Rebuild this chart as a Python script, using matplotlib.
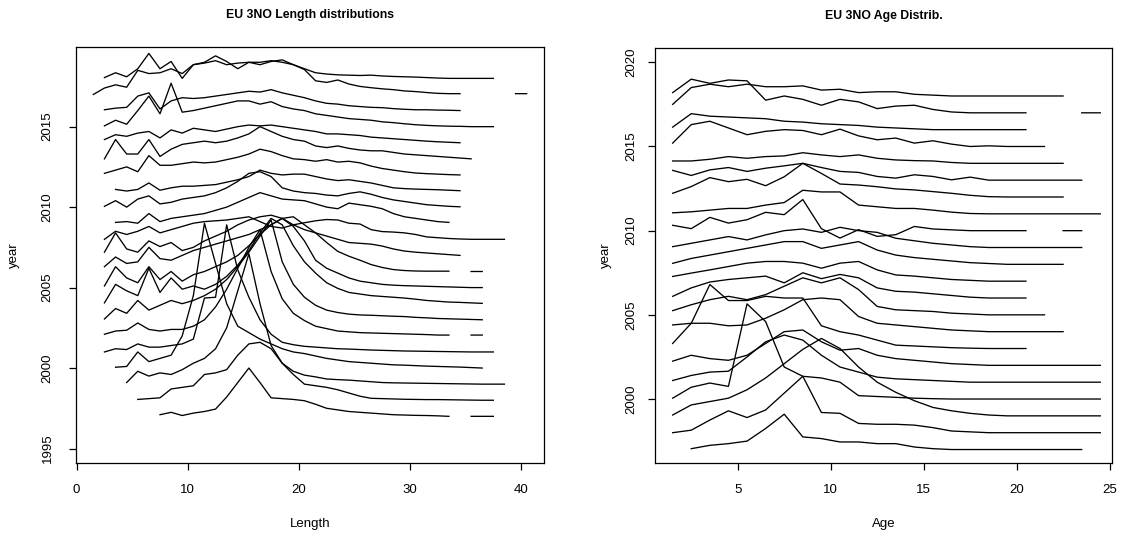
import numpy as np
import matplotlib
matplotlib.use("Agg")
import matplotlib.pyplot as plt

nan = np.nan
years = list(range(1997, 2019))

# ---------------- Length panel (heights above the year baseline) -------------
len_start = [7.5, 5.5, 4.5, 3.5, 2.5, 2.5, 2.5, 2.5, 2.5, 2.5, 2.5,
             2.5, 3.5, 2.5, 3.5, 2.5, 2.5, 2.5, 2.5, 2.5, 1.5, 2.5]

len_1997 = [0.1, 0.25, 0.05, 0.2, 0.3, 0.45, 1.2, 2.1, 3.0, 2.1, 1.15, 1.1, 1.05, 0.97,
            0.75, 0.5, 0.4, 0.3, 0.25, 0.2, 0.15, 0.1, 0.08, 0.06, 0.05, 0.03, 0.0, nan,
            0.0, 0.0, 0.0]
len_1998 = [0.05, 0.1, 0.15, 0.7, 0.8, 0.9, 1.6, 1.7, 1.9, 2.8, 3.5, 3.6, 3.2, 2.3, 1.6,
            1.0, 0.9, 0.8, 0.65, 0.45, 0.25, 0.12, 0.1, 0.08, 0.06, 0.05, 0.04, 0.04, 0.03,
            0.02, 0.01, 0.0, 0.0]
len_1999 = [0.1, 0.8, 0.5, 0.7, 0.6, 0.9, 1.3, 1.6, 2.2, 3.5, 5.8, 8.1, 5.0, 2.4, 1.3,
            0.8, 0.56, 0.45, 0.32, 0.28, 0.25, 0.2, 0.15, 0.1, 0.08, 0.07, 0.06, 0.05, 0.04,
            0.03, 0.02, 0.01, 0.0, 0.0, 0.0]
len_2000 = [0.05, 0.1, 1.0, 0.4, 0.6, 0.8, 2.0, 4.5, 9.0, 6.5, 4.0, 2.6, 2.2, 1.8, 1.5,
            1.2, 1.0, 0.9, 0.75, 0.6, 0.5, 0.4, 0.35, 0.3, 0.25, 0.2, 0.18, 0.15, 0.12,
            0.1, 0.08, 0.06, 0.03, 0.0]
len_2001 = [0.0, 0.2, 0.15, 0.5, 0.3, 0.3, 0.4, 0.5, 0.8, 3.35, 3.4, 7.9, 5.1, 3.4, 2.0,
            1.1, 0.6, 0.45, 0.35, 0.3, 0.25, 0.2, 0.18, 0.15, 0.12, 0.1, 0.08, 0.06, 0.05,
            0.04, 0.03, 0.02, 0.01, 0.0, 0.0, 0.0]
len_2002 = [0.1, 0.3, 0.35, 0.8, 0.4, 0.3, 0.4, 0.4, 0.6, 1.0, 1.8, 2.9, 4.2, 5.5, 6.6,
            4.0, 2.3, 1.4, 0.95, 0.6, 0.45, 0.3, 0.25, 0.2, 0.18, 0.16, 0.14, 0.12, 0.1,
            0.08, 0.05, 0.05, nan, 0.05, 0.05]
len_2003 = [0.05, 0.7, 0.4, 1.2, 0.6, 0.9, 1.2, 1.0, 1.2, 1.5, 1.9, 2.5, 3.3, 4.2, 5.2,
            6.2, 3.6, 2.2, 1.4, 0.9, 0.6, 0.45, 0.35, 0.3, 0.28, 0.25, 0.22, 0.2, 0.15,
            0.12, 0.08, 0.06, 0.04, 0.02, 0.0]
len_2004 = [0.05, 1.2, 0.8, 0.5, 2.2, 0.7, 1.6, 0.9, 1.1, 0.9, 1.2, 1.7, 2.4, 3.3, 4.4,
            5.3, 4.9, 3.6, 2.6, 1.9, 1.3, 0.95, 0.7, 0.6, 0.5, 0.45, 0.4, 0.35, 0.28, 0.2,
            0.15, 0.1, 0.08, 0.05, 0.02]
len_2005 = [0.1, 1.3, 0.6, 0.3, 1.3, 0.5, 1.0, 0.4, 0.8, 1.0, 1.3, 1.6, 2.0, 2.6, 3.3,
            3.9, 4.3, 3.8, 2.9, 1.7, 1.2, 0.9, 0.6, 0.4, 0.3, 0.2, 0.15, 0.12, 0.1, 0.08,
            0.06, 0.04, 0.02, 0.0, 0.0]
len_2006 = [0.3, 0.9, 0.5, 0.6, 1.5, 0.8, 0.7, 1.0, 1.3, 1.5, 1.7, 1.9, 2.1, 2.3, 2.6,
            2.9, 3.3, 3.4, 2.9, 2.4, 1.8, 1.25, 0.95, 0.7, 0.43, 0.25, 0.12, 0.06, 0.03,
            0.02, 0.02, 0.02, nan, 0.0, 0.0]
len_2007 = [0.2, 1.4, 0.4, 0.2, 0.9, 0.55, 0.8, 0.3, 0.5, 0.9, 1.2, 1.5, 1.9, 2.2, 2.4,
            2.5, 2.3, 1.9, 1.6, 1.4, 1.2, 1.0, 0.8, 0.75, 0.7, 0.58, 0.4, 0.27, 0.2, 0.15,
            0.1, 0.05, 0.0]
len_2008 = [0.0, 0.5, 0.3, 0.5, 0.8, 0.4, 0.6, 0.8, 1.0, 1.1, 1.15, 1.2, 1.3, 1.4, 1.1,
            0.8, 0.7, 0.9, 1.03, 1.15, 1.23, 1.2, 1.0, 0.95, 0.6, 0.48, 0.45, 0.4, 0.3,
            0.15, 0.1, 0.05, 0.02, 0.0, 0.0, 0.0, 0.0]
len_2009 = [0.05, 0.1, 0.0, 0.6, 0.1, 0.3, 0.4, 0.5, 0.6, 0.8, 1.0, 1.3, 1.6, 1.9, 1.7,
            1.5, 1.45, 1.4, 1.2, 1.0, 0.9, 1.25, 1.15, 1.05, 0.9, 0.6, 0.4, 0.3, 0.2, 0.1,
            0.05]
len_2010 = [0.05, 0.4, 0.0, 0.5, 0.7, 0.2, 0.3, 0.5, 0.6, 0.7, 0.9, 1.2, 1.6, 2.1, 2.2,
            1.9, 1.2, 1.0, 0.9, 0.85, 0.75, 0.7, 0.85, 0.95, 0.8, 0.6, 0.45, 0.35, 0.25,
            0.15, 0.1, 0.05, 0.02]
len_2011 = [0.1, 0.0, 0.1, 0.5, 0.05, 0.2, 0.3, 0.3, 0.35, 0.4, 0.55, 0.7, 0.9, 1.3, 1.1,
            1.0, 1.05, 1.05, 0.9, 0.75, 0.65, 0.7, 0.6, 0.5, 0.35, 0.2, 0.15, 0.12, 0.1,
            0.08, 0.05, 0.02]
len_2012 = [0.1, 0.3, 0.5, 0.2, 1.2, 0.6, 0.6, 0.7, 0.8, 0.75, 0.8, 0.95, 1.1, 1.3, 1.6,
            1.45, 1.2, 1.0, 0.95, 0.85, 0.95, 0.8, 0.85, 0.75, 0.55, 0.4, 0.3, 0.2, 0.12,
            0.08, 0.05, 0.02, 0.0]
len_2013 = [0.0, 1.2, 0.3, 0.3, 1.2, 0.15, 0.6, 0.9, 1.0, 1.1, 1.0, 1.1, 1.3, 1.55, 2.0,
            1.7, 1.4, 1.2, 1.1, 0.8, 0.7, 0.8, 0.65, 0.55, 0.5, 0.5, 0.4, 0.3, 0.25, 0.2,
            0.15, 0.1, 0.05, 0.0]
len_2014 = [0.2, 0.5, 0.4, 0.6, 0.7, 0.3, 0.8, 0.6, 0.9, 0.8, 0.7, 0.85, 1.0, 1.1, 1.05,
            1.1, 1.0, 0.9, 0.8, 0.7, 0.55, 0.55, 0.5, 0.45, 0.35, 0.3, 0.25, 0.2, 0.15,
            0.1, 0.06, 0.03, 0.0]
len_2015 = [0.05, 0.4, 0.15, 1.0, 1.9, 0.8, 2.7, 0.9, 1.0, 1.15, 1.3, 1.45, 1.6, 1.6, 1.4,
            1.55, 1.25, 1.1, 1.0, 0.8, 0.7, 0.6, 0.5, 0.45, 0.4, 0.3, 0.25, 0.18, 0.12,
            0.08, 0.05, 0.03, 0.02, 0.0, 0.0, 0.0]
len_2016 = [0.05, 0.15, 0.2, 0.9, 1.1, 0.1, 0.6, 0.8, 0.75, 0.8, 0.9, 1.0, 1.1, 1.2, 1.15,
            1.3, 1.1, 0.95, 0.8, 0.6, 0.45, 0.4, 0.3, 0.25, 0.2, 0.18, 0.12, 0.08, 0.05,
            0.05, 0.03, 0.02, 0.0]
len_2017 = [0.0, 0.4, 0.6, 0.45, 1.5, 1.3, 1.35, 1.6, 1.3, 1.85, 1.95, 2.1, 1.85, 1.95, 2.0,
            2.0, 2.1, 2.0, 1.85, 1.55, 0.85, 0.75, 0.9, 0.65, 0.5, 0.42, 0.35, 0.3, 0.22,
            0.18, 0.12, 0.07, 0.05, 0.05, nan, nan, nan, nan, 0.05, 0.05]
len_2018 = [0.05, 0.35, 0.1, 0.6, 1.55, 0.6, 1.05, 0.0, 0.85, 1.0, 1.4, 1.05, 0.6, 1.0,
            0.85, 1.05, 1.15, 0.85, 0.6, 0.35, 0.27, 0.22, 0.2, 0.18, 0.2, 0.15, 0.12, 0.1,
            0.08, 0.05, 0.02, 0.0, 0.0, 0.0, 0.0, 0.0]

# ---------------- Age panel (heights above the year baseline) ----------------
age_start = [2.5] + [1.5] * 21

age_1997 = [0.05, 0.25, 0.35, 0.5, 1.25, 2.1, 0.75, 0.65, 0.45, 0.45, 0.35, 0.35, 0.15,
            0.05, 0.0, 0.0, 0.0, 0.0, 0.0, 0.0, 0.0, 0.0]
age_1998 = [0.0, 0.15, 0.75, 1.3, 0.9, 1.35, 2.35, 3.35, 1.2, 1.15, 0.55, 0.5, 0.5, 0.45,
            0.3, 0.1, 0.05, 0.0, 0.0, 0.0, 0.0, 0.0, 0.0, 0.0]
age_1999 = [0.05, 0.65, 0.85, 1.05, 1.55, 2.25, 3.1, 3.95, 4.6, 4.0, 2.9, 2.0, 1.4, 0.9,
            0.5, 0.3, 0.15, 0.05, 0.0, 0.0, 0.0, 0.0, 0.0, 0.0]
age_2000 = [0.05, 0.7, 0.95, 0.75, 5.65, 4.6, 1.9, 1.35, 1.25, 1.0, 0.2, 0.15, 0.1, 0.05,
            0.02, 0.0, 0.0, 0.0, 0.0, 0.0, 0.0, 0.0, 0.0, 0.0]
age_2001 = [0.1, 0.4, 0.6, 0.65, 1.5, 2.4, 2.8, 2.5, 1.6, 0.9, 0.6, 0.3, 0.2, 0.15, 0.1,
            0.05, 0.0, 0.0, 0.0, 0.0, 0.0, 0.0, 0.0, 0.0]
age_2002 = [0.25, 0.6, 0.4, 0.3, 0.6, 1.3, 2.0, 2.1, 1.4, 0.9, 1.0, 0.6, 0.4, 0.3, 0.2,
            0.1, 0.05, 0.0, 0.0, 0.0, 0.0, 0.0, 0.0, 0.0]
age_2003 = [0.3, 1.5, 3.8, 2.85, 2.85, 3.1, 3.0, 3.0, 1.35, 1.0, 0.8, 0.5, 0.2, 0.15, 0.1,
            0.05, 0.02, 0.0, 0.0, 0.0]
age_2004 = [0.4, 0.5, 0.5, 0.35, 0.4, 0.8, 1.3, 1.9, 2.0, 1.9, 0.9, 0.5, 0.4, 0.3, 0.2,
            0.1, 0.05, 0.0, 0.0, 0.0, 0.0, 0.0]
age_2005 = [0.25, 0.6, 0.9, 1.1, 0.9, 1.2, 1.7, 2.2, 1.9, 2.2, 1.5, 0.5, 0.3, 0.25, 0.2,
            0.1, 0.05, 0.0, 0.0, 0.0, 0.0]
age_2006 = [0.1, 0.6, 0.95, 1.1, 1.2, 1.3, 0.9, 1.5, 1.15, 1.4, 1.2, 0.6, 0.4, 0.35, 0.25,
            0.15, 0.05, 0.0, 0.0, 0.0]
age_2007 = [0.28, 0.48, 0.67, 0.87, 1.07, 1.17, 1.17, 1.07, 0.77, 1.07, 1.17, 0.67, 0.37,
            0.3, 0.2, 0.1, 0.05, 0.0, 0.0, 0.0]
age_2008 = [0.06, 0.35, 0.55, 0.75, 0.95, 1.15, 1.35, 1.35, 0.95, 1.15, 1.35, 0.85, 0.55,
            0.4, 0.3, 0.2, 0.1, 0.05, 0.0, 0.0, 0.0, 0.0]
age_2009 = [0.05, 0.25, 0.45, 0.65, 0.45, 0.75, 1.0, 1.1, 0.9, 1.2, 1.0, 0.9, 0.55, 0.4,
            0.25, 0.15, 0.05, 0.0, 0.0, 0.0, 0.0, 0.0, 0.0]
age_2010 = [0.32, 0.12, 0.79, 0.45, 0.65, 1.09, 0.95, 1.85, 0.12, -0.44, 0.06, -0.34,
            -0.24, 0.25, 0.1, 0.05, 0.0, 0.0, 0.0, 0.0, nan, 0.0, 0.0]
age_2011 = [0.06, 0.12, 0.22, 0.32, 0.32, 0.52, 0.67, 1.4, 1.3, 1.3, 0.52, 0.42, 0.32,
            0.32, 0.22, 0.1, 0.02, 0.0, 0.0, 0.0, 0.0, 0.0, 0.0, 0.0]
age_2012 = [0.22, 0.62, 1.15, 0.91, 1.05, 0.67, 1.2, 2.0, 1.4, 0.77, 0.71, 0.61, 0.48,
            0.42, 0.32, 0.22, 0.1, 0.02, 0.0, 0.0, 0.0, 0.0]
age_2013 = [0.58, 0.28, 0.61, 0.75, 0.52, 0.71, 0.85, 1.0, 0.75, 0.52, 0.46, 0.22, 0.12,
            0.32, 0.22, 0.02, 0.18, 0.0, 0.0, 0.0, 0.0, 0.0, 0.0]
age_2014 = [0.14, 0.14, 0.24, 0.4, 0.3, 0.4, 0.44, 0.63, 0.5, 0.4, 0.5, 0.3, 0.2, 0.16,
            0.14, 0.05, 0.0, 0.0, 0.0, 0.0, 0.0, 0.0]
age_2015 = [0.2, 1.3, 1.5, 1.1, 0.7, 0.9, 1.0, 0.95, 0.7, 1.03, 0.63, 0.4, 0.5, 0.2, 0.34,
            0.14, 0.0, 0.04, 0.0, 0.0, 0.0]
age_2016 = [0.15, 0.95, 0.8, 0.75, 0.7, 0.65, 0.5, 0.45, 0.35, 0.3, 0.25, 0.15, 0.1, 0.05,
            0.0, 0.0, 0.0, 0.0, 0.0, 0.0]
age_2017 = [1.2, 2.0, 1.75, 1.95, 1.9, 0.75, 1.0, 0.8, 0.45, 0.8, 0.65, 0.25, 0.4, 0.45,
            0.2, 0.05, 0.0, 0.0, 0.0, 0.0, nan, nan, 0.0, 0.0]
age_2018 = [-0.5, 0.5, 0.7, 0.55, 0.7, 0.55, 0.55, 0.6, 0.35, 0.4, 0.2, 0.25, 0.25, 0.1,
            0.05, 0.0, 0.0, 0.0, 0.0, 0.0, 0.0, 0.0]

length_series = [len_1997, len_1998, len_1999, len_2000, len_2001, len_2002, len_2003,
                 len_2004, len_2005, len_2006, len_2007, len_2008, len_2009, len_2010,
                 len_2011, len_2012, len_2013, len_2014, len_2015, len_2016, len_2017,
                 len_2018]
age_series = [age_1997, age_1998, age_1999, age_2000, age_2001, age_2002, age_2003,
              age_2004, age_2005, age_2006, age_2007, age_2008, age_2009, age_2010,
              age_2011, age_2012, age_2013, age_2014, age_2015, age_2016, age_2017,
              age_2018]

titles = ["EU 3NO Length distributions", "EU 3NO Age Distrib."]
xlabels = ["Length", "Age"]
len_ticks = [0, 10, 20, 30, 40]
len_yticks = [1995, 2000, 2005, 2010, 2015]
age_ticks = [5, 10, 15, 20, 25]
age_yticks = [2000, 2005, 2010, 2015, 2020]

plt.rcParams['font.family'] = ['Liberation Sans', 'DejaVu Sans']

W, H = 1128, 541
fig = plt.figure(figsize=(W / 100, H / 100), dpi=100)


def px_axes(x0, y0, x1, y1):
    return fig.add_axes([x0 / W, 1 - y1 / H, (x1 - x0) / W, (y1 - y0) / H])


axL = px_axes(76, 47, 544, 463)
axR = px_axes(655, 48, 1112, 463)

for yr, st, h in zip(years, len_start, length_series):
    x = st + np.arange(len(h))
    axL.plot(x, yr + np.asarray(h, float), color='black', lw=0.95)
for yr, st, h in zip(years, age_start, age_series):
    x = st + np.arange(len(h))
    axR.plot(x, yr + np.asarray(h, float), color='black', lw=0.95)

axL.set_xlim(-0.06, 42.06)
axL.set_ylim(1994.1, 2019.95)
axR.set_xlim(0.55, 25.13)
axR.set_ylim(1996.2, 2020.85)

axL.set_xticks(len_ticks)
axL.set_yticks(len_yticks)
axR.set_xticks(age_ticks)
axR.set_yticks(age_yticks)

for ax, t, xl, ypad, ylp in zip([axL, axR], titles, xlabels, [11, 8], [15.5, 9.5]):
    for s in ax.spines.values():
        s.set_linewidth(0.9)
    ax.tick_params(axis='both', direction='out', length=5, width=0.9,
                   labelsize=9.5, top=False, right=False)
    ax.tick_params(axis='x', pad=10)
    ax.tick_params(axis='y', pad=ypad)
    for lab in ax.get_yticklabels():
        lab.set_rotation(90)
        lab.set_va('center')
    ax.set_title(t, fontsize=8.8, fontweight='bold', pad=21)
    ax.set_xlabel(xl, fontsize=9.5, labelpad=16)
    ax.set_ylabel('year', fontsize=9.5, labelpad=ylp)

fig.savefig('out.png', dpi=100)
